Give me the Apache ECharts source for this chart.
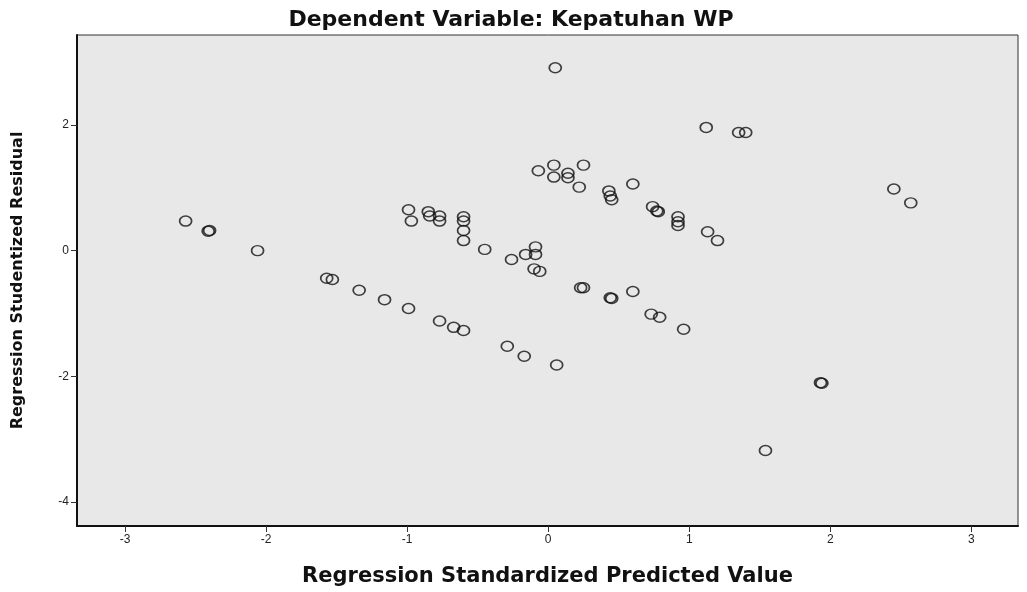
<!DOCTYPE html>
<html>
<head>
<meta charset="utf-8">
<script src="https://cdn.jsdelivr.net/npm/echarts@6/dist/echarts.min.js"></script>
<style>
    html, body { margin: 0; padding: 0; background: #fff; }
    #chart { width: 1027px; height: 592px; }
</style>
</head>
<body>
<div id="chart"></div>
<script>
// Regression Standardized Predicted Value (x) vs Studentized Residual (y)
const predicted = [
    -2.57, -2.40, -2.41, -2.06,
    -0.99, -0.97, -0.85, -0.84, -0.77, -0.77,
    -0.60, -0.60, -0.60, -0.60, -0.45,
    -0.26, -0.16, -0.09, -0.09, -0.10, -0.06,
    -0.07, 0.04, 0.04, 0.14, 0.14, 0.25, 0.22,
    0.43, 0.44, 0.45, 0.60, 0.74, 0.77, 0.78,
    0.92, 0.92, 0.92, 1.13, 1.20,
    0.05, 1.12, 1.35, 1.40, 2.45, 2.57,
    -1.57, -1.53, -1.34, -1.16, -0.99, -0.77, -0.67, -0.60,
    -0.29, -0.17, 0.06,
    0.23, 0.25, 0.45, 0.44, 0.60, 0.73, 0.79, 0.96,
    1.93, 1.94, 1.54,
]
const residual = [
    0.47, 0.32, 0.31, 0.00,
    0.65, 0.47, 0.62, 0.55, 0.55, 0.47,
    0.54, 0.47, 0.32, 0.16, 0.02,
    -0.14, -0.06, 0.06, -0.06, -0.29, -0.33,
    1.27, 1.36, 1.17, 1.23, 1.16, 1.36, 1.01,
    0.95, 0.87, 0.81, 1.06, 0.70, 0.63, 0.62,
    0.54, 0.46, 0.40, 0.30, 0.16,
    2.91, 1.96, 1.88, 1.88, 0.98, 0.76,
    -0.44, -0.46, -0.63, -0.78, -0.92, -1.12, -1.22, -1.27,
    -1.52, -1.68, -1.82,
    -0.59, -0.59, -0.76, -0.75, -0.65, -1.01, -1.06, -1.25,
    -2.10, -2.11, -3.18,
]
const xTicks = [-3, -2, -1, 0, 1, 2, 3]
const yTicks = [-4, -2, 0, 2]

let myChart = echarts.init(document.getElementById('chart'))
let option = {
    backgroundColor: '#fff',
    title: {
        text: 'Dependent Variable: Kepatuhan WP',
        left: 506,
        top: 4,
        textAlign: 'center',
        textStyle: {
            fontFamily: 'DejaVu Sans',
            fontWeight: 'bold',
            fontSize: 22,
            color: '#111',
        },
    },
    grid: {
        left: 77,
        top: 35,
        right: 9,
        bottom: 63,
        show: true,
        backgroundColor: '#e8e8e8',
        borderColor: '#333',
        borderWidth: 1,
    },
    xAxis: {
        type: 'value',
        min: -3.34,
        max: 3.33,
        name: 'Regression Standardized Predicted Value',
        nameLocation: 'middle',
        nameGap: 40,
        nameTextStyle: {
            fontFamily: 'DejaVu Sans',
            fontWeight: 'bold',
            fontSize: 21,
            color: '#111',
        },
        splitLine: { show: false },
        axisLine: { onZero: false, lineStyle: { color: '#111', width: 2 } },
        axisTick: { length: 6, customValues: xTicks, lineStyle: { color: '#333' } },
        axisLabel: {
            customValues: xTicks,
            fontFamily: 'Liberation Sans',
            fontSize: 12,
            color: '#222',
            margin: 8,
        },
    },
    yAxis: {
        type: 'value',
        min: -4.38,
        max: 3.43,
        name: 'Regression Studentized Residual',
        nameLocation: 'middle',
        nameGap: 51,
        nameTextStyle: {
            fontFamily: 'DejaVu Sans',
            fontWeight: 'bold',
            fontSize: 16,
            color: '#111',
        },
        splitLine: { show: false },
        axisLine: { onZero: false, lineStyle: { color: '#111', width: 2 } },
        axisTick: { length: 6, customValues: yTicks, lineStyle: { color: '#333' } },
        axisLabel: {
            customValues: yTicks,
            fontFamily: 'Liberation Sans',
            fontSize: 12,
            color: '#222',
            margin: 8,
        },
    },
    series: [
        {
            type: 'scatter',
            data: predicted.map((x, i) => [x, residual[i]]),
            symbol: 'circle',
            symbolSize: [12, 10],
            itemStyle: {
                color: 'transparent',
                borderColor: '#111',
                borderWidth: 1.6,
            },
            silent: true,
        },
    ],
}
myChart.setOption(option, true)
</script>
</body>
</html>
